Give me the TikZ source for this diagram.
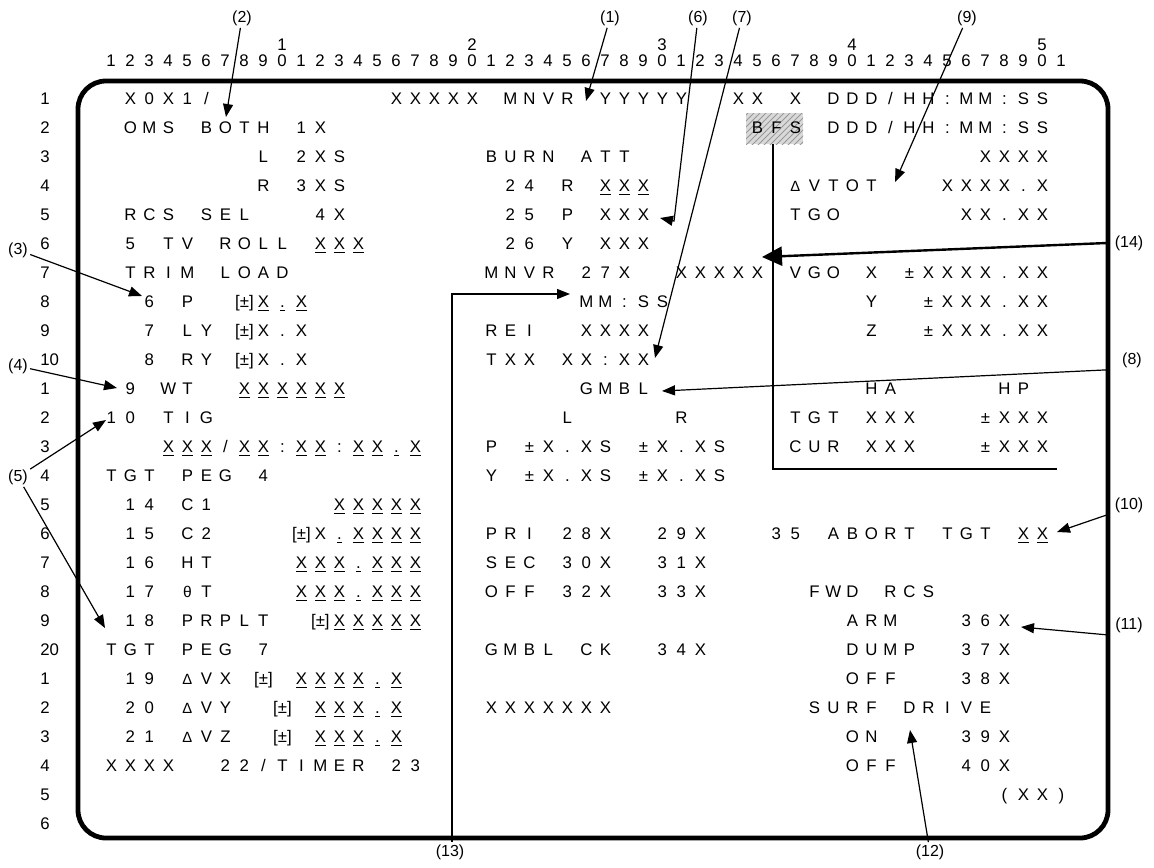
\documentclass[tikz,border=0pt]{standalone}
\usepackage{fontspec}
\setmainfont{Liberation Sans}
\usetikzlibrary{arrows.meta,patterns}

% one character per screen cell
\newlength\cw \setlength\cw{9.5pt}
\def\gtstop{\gtstop}
\def\gtloop#1{\ifx\gtstop#1\else\makebox[\cw]{#1}\expandafter\gtloop\fi}
\newcommand\ux{\underline{X}}
\newcommand\ud{\underline{.}}
\newcommand\bpm{[±]}
\newcommand\dlt{{\fontsize{7.4}{7.4}\selectfont Δ}}
\newcommand\tht{{\fontsize{7.8}{7.8}\selectfont θ}}
\newcommand\gline[4]{\node[gridtext] (#1) at ({82.5+19*#3},{75.2+29*#2}) {\gtloop#4\gtstop};}

\begin{document}
\begin{tikzpicture}[x=0.5pt,y=-0.5pt,
    gridtext/.style={anchor=base west,inner sep=0pt,font=\fontsize{8.4}{10}\selectfont},
    lab/.style={inner sep=1pt,font=\fontsize{8}{10}\selectfont},
    arr/.style={-{Triangle[length=6.5pt,width=5pt]},line width=0.6pt}]
            \useasboundingbox (0,0) rectangle (1154,867);
            %
            \draw[line width=2.4pt,rounded corners=14pt] (78,81) rectangle (1108,838);
            %
            \foreach \c in {1,...,51}{
                \pgfmathtruncatemacro\d{mod(\c,10)}
                \node[gridtext,anchor=base] (u\c) at ({92+19*\c},66) {\d};
            }
            \foreach \t in {1,...,5}
                \node[gridtext,anchor=base] (d\t) at ({92+190*\t},50) {\t};
            \foreach \r in {1,...,26}{
                \pgfmathtruncatemacro\n{mod(\r,10)==0 ? \r : mod(\r,10)}
                \node[gridtext] (row\r) at (40,{75.2+29*\r}) {\n};
            }
            %
            \fill[gray!30] (746,113) rectangle (803,144);
            \fill[pattern=north east lines,pattern color=gray!80] (746,113) rectangle (803,144);
            \draw[line width=1pt] (773,144) -- (773,469) -- (1057,469);
            %
            \gline{xoxi}{1}{2}{X0X1/}
            \gline{oms}{2}{2}{OMS~BOTH~1X}
            \gline{omsl}{3}{9}{L~2XS}
            \gline{omsr}{4}{9}{R~3XS}
            \gline{rcs}{5}{2}{RCS~SEL~~~4X}
            \gline{tvroll}{6}{2}{5~TV~ROLL~\ux\ux\ux}
            \gline{trim}{7}{2}{TRIM~LOAD}
            \gline{trimp}{8}{3}{6~P~~\bpm\ux\ud\ux}
            \gline{trimly}{9}{3}{7~LY~\bpm X.X}
            \gline{trimry}{10}{3}{8~RY~\bpm X.X}
            \gline{wt}{11}{2}{9~WT~~\ux\ux\ux\ux\ux\ux}
            \gline{tig}{12}{1}{10~TIG}
            \gline{tigval}{13}{4}{\ux\ux\ux/\ux\ux:\ux\ux:\ux\ux\ud\ux}
            \gline{pegfour}{14}{1}{TGT~PEG~4}
            \gline{cone}{15}{2}{14~C1~~~~~~\ux\ux\ux\ux\ux}
            \gline{ctwo}{16}{2}{15~C2~~~~\bpm X\ud\ux\ux\ux\ux}
            \gline{ht}{17}{2}{16~HT~~~~\ux\ux\ux\ud\ux\ux\ux}
            \gline{thetat}{18}{2}{17~\tht T~~~~\ux\ux\ux\ud\ux\ux\ux}
            \gline{prplt}{19}{2}{18~PRPLT~~\bpm\ux\ux\ux\ux\ux}
            \gline{pegseven}{20}{1}{TGT~PEG~7}
            \gline{dvx}{21}{2}{19~\dlt VX~\bpm~\ux\ux\ux\ux\ud\ux}
            \gline{dvy}{22}{2}{20~\dlt VY~~\bpm~\ux\ux\ux\ud\ux}
            \gline{dvz}{23}{2}{21~\dlt VZ~~\bpm~\ux\ux\ux\ud\ux}
            \gline{timer}{24}{1}{XXXX~~22/TIMER~23}
            %
            \gline{mnvr}{1}{16}{XXXXX~MNVR~YYYYY}
            \gline{gmtone}{1}{34}{XX~X~DDD/HH:MM:SS}
            \gline{bfs}{2}{35}{BFS}
            \gline{gmttwo}{2}{39}{DDD/HH:MM:SS}
            \gline{burn}{3}{21}{BURN~ATT}
            \gline{attr}{4}{22}{24~R~\ux\ux\ux}
            \gline{attp}{5}{22}{25~P~XXX}
            \gline{atty}{6}{22}{26~Y~XXX}
            \gline{mnvrtt}{7}{21}{MNVR~27X~~XXXXX}
            \gline{mmss}{8}{26}{MM:SS}
            \gline{rei}{9}{21}{REI~~XXXX}
            \gline{txx}{10}{21}{TXX~XX:XX}
            \gline{gmbl}{11}{26}{GMBL}
            \gline{gmbllr}{12}{25}{L~~~~~R}
            \gline{gmblp}{13}{21}{P~±X.XS~±X.XS}
            \gline{gmbly}{14}{21}{Y~±X.XS~±X.XS}
            \gline{pri}{16}{21}{PRI~28X~~29X}
            \gline{sec}{17}{21}{SEC~30X~~31X}
            \gline{off}{18}{21}{OFF~32X~~33X}
            \gline{gmblck}{20}{21}{GMBL~CK~~34X}
            \gline{msg}{22}{21}{XXXXXXX}
            %
            \gline{tgxxxx}{3}{47}{XXXX}
            \gline{dvtot}{4}{37}{\dlt VTOT~~~XXXX.X}
            \gline{tgo}{5}{37}{TGO~~~~~~XX.XX}
            \gline{vgox}{7}{37}{VGO~X~±XXXX.XX}
            \gline{vgoy}{8}{41}{Y~~±XXX.XX}
            \gline{vgoz}{9}{41}{Z~~±XXX.XX}
            \gline{hahp}{11}{41}{HA~~~~~HP}
            \gline{tgt}{12}{37}{TGT~XXX~~~±XXX}
            \gline{cur}{13}{37}{CUR~XXX~~~±XXX}
            \gline{abort}{16}{36}{35~ABORT~TGT~\ux\ux}
            \gline{fwd}{18}{38}{FWD~RCS}
            \gline{arm}{19}{40}{ARM~~~36X}
            \gline{dump}{20}{40}{DUMP~~37X}
            \gline{rcsoff}{21}{40}{OFF~~~38X}
            \gline{surf}{22}{38}{SURF~DRIVE}
            \gline{on}{23}{40}{ON~~~~39X}
            \gline{sdoff}{24}{40}{OFF~~~40X}
            \gline{xx}{25}{48}{(XX)}
            %
            \node[lab] (l1) at (610,18) {(1)};
            \node[lab] (l2) at (242,18) {(2)};
            \node[lab] (l6) at (698,18) {(6)};
            \node[lab] (l7) at (742,18) {(7)};
            \node[lab] (l9) at (967,18) {(9)};
            \node[lab] (l3) at (18,250) {(3)};
            \node[lab] (l4) at (18,366) {(4)};
            \node[lab] (l5) at (18,477) {(5)};
            \node[lab] (l14) at (1129,243) {(14)};
            \node[lab] (l8) at (1132,360) {(8)};
            \node[lab] (l10) at (1129,505) {(10)};
            \node[lab] (l11) at (1129,625) {(11)};
            \node[lab] (l13) at (450,852) {(13)};
            \node[lab] (l12) at (930,852) {(12)};
            %
            \coordinate (fr) at (1107,0);
            \coordinate (t1) at (586,101);
            \coordinate (t2) at (226,117);
            \coordinate (t3) at (142,296);
            \coordinate (t4) at (117,388);
            \coordinate (t5a) at (106,420);
            \coordinate (t5b) at (105,628);
            \coordinate (b6) at (674,221);
            \coordinate (t6) at (660,218);
            \coordinate (t7) at (655,358);
            \coordinate (t8) at (662,391);
            \coordinate (t9) at (895,182);
            \coordinate (t10) at (1057,532);
            \coordinate (t11) at (1021,627);
            \coordinate (t12) at (910,730);
            \coordinate (c13) at (452,294);
            \coordinate (t13) at (570,294);
            \coordinate (t14) at (762,257);
            %
            \draw[arr] (l1) -- (t1);
            \draw[arr] (l2) -- (t2);
            \draw[arr] (l3) -- (t3);
            \draw[arr] (l4) -- (t4);
            \draw[arr] (l5) -- (t5a);
            \draw[arr] (l5) -- (t5b);
            \draw[arr] (l6) -- (b6) -- (t6);
            \draw[arr] (l7) -- (t7);
            \draw[arr] (l9) -- (t9);
            \draw[arr] (l8.south west -| fr) -- (t8);
            \draw[arr] (l10.south west -| fr) -- (t10);
            \draw[arr] (l11.south west -| fr) -- (t11);
            \draw[arr] (l12) -- (t12);
            \draw[arr] (l13.north -| c13) -- (c13) -- (t13);
            \draw[-{Triangle[length=10pt,width=9.5pt]},line width=1.2pt] (l14.west -| fr) -- (t14);
\end{tikzpicture}
\end{document}
